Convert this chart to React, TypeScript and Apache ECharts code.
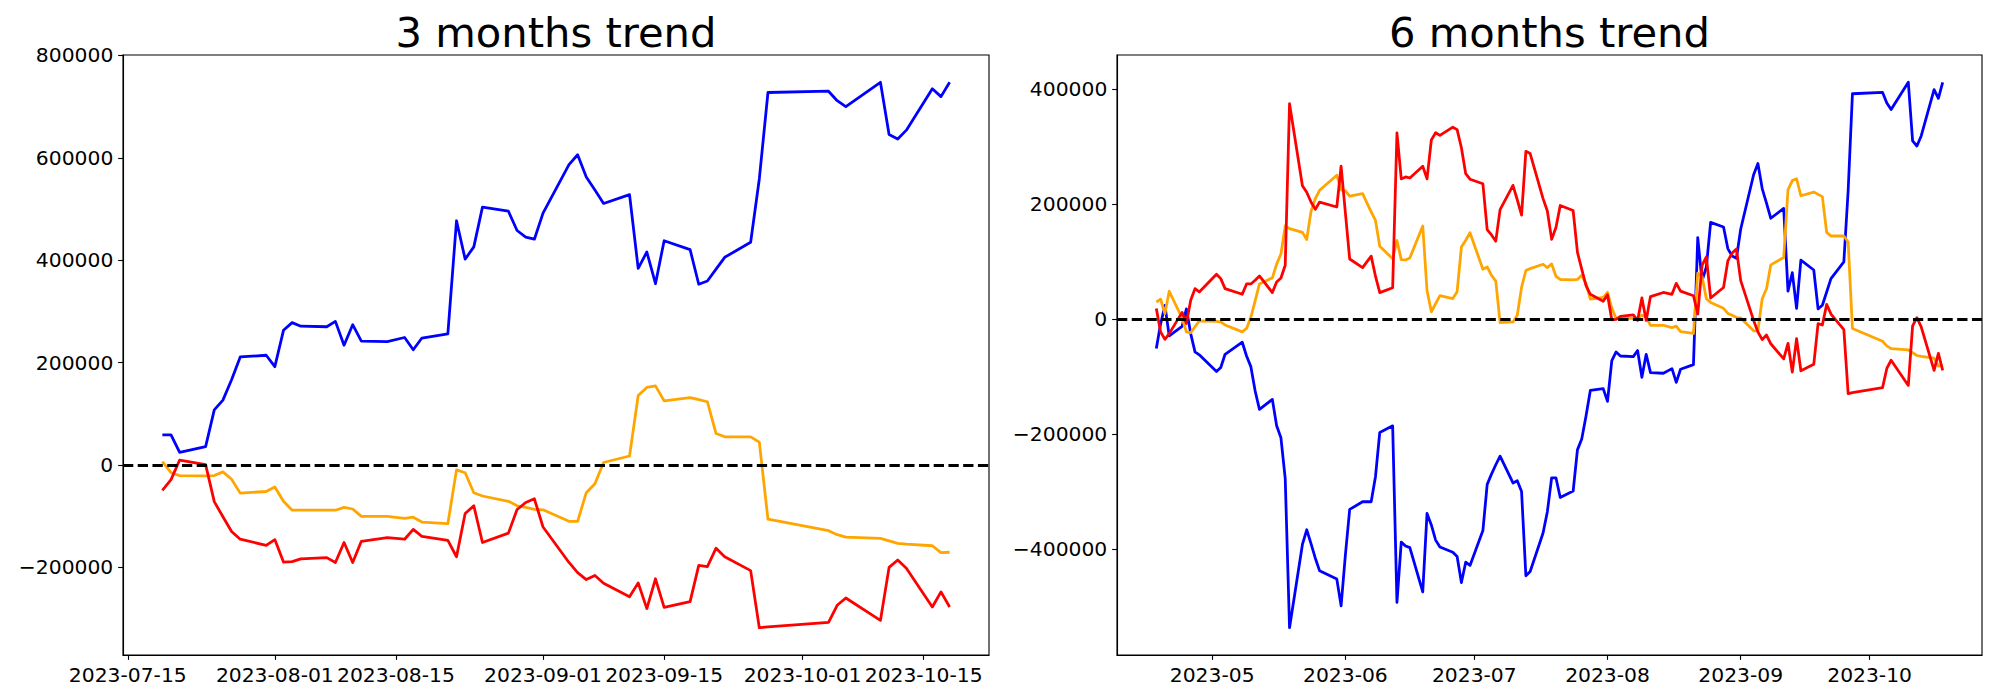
import { useEffect, useRef } from 'react';
import * as echarts from 'echarts';

// ---------- 3 months data ----------
const dates3m = [
  '2023-07-19', '2023-07-20', '2023-07-21', '2023-07-24', '2023-07-25', '2023-07-26', '2023-07-27', '2023-07-28', '2023-07-31',
  '2023-08-01', '2023-08-02', '2023-08-03', '2023-08-04', '2023-08-07', '2023-08-08', '2023-08-09', '2023-08-10', '2023-08-11',
  '2023-08-14', '2023-08-16', '2023-08-17', '2023-08-18', '2023-08-21', '2023-08-22', '2023-08-23', '2023-08-24', '2023-08-25',
  '2023-08-28', '2023-08-29', '2023-08-30', '2023-08-31',
  '2023-09-01', '2023-09-04', '2023-09-05', '2023-09-06', '2023-09-07', '2023-09-08', '2023-09-11', '2023-09-12', '2023-09-13',
  '2023-09-14', '2023-09-15', '2023-09-18', '2023-09-19', '2023-09-20', '2023-09-21', '2023-09-22', '2023-09-25', '2023-09-26',
  '2023-09-27',
  '2023-10-04', '2023-10-05', '2023-10-06', '2023-10-10', '2023-10-11', '2023-10-12', '2023-10-13', '2023-10-16', '2023-10-17',
  '2023-10-18',
];
const blue3m = [
  59000, 59000, 24700, 35900, 107600, 126700, 166500, 211000, 214300,
  192000, 263000, 278000, 271000, 270000, 280500, 234000, 274000, 242000, 241000, 249000, 225000, 248000, 256000, 477000, 402000, 426000, 503600, 495600, 458000, 445000, 441000,
  492000, 586500, 606000, 562500, 537000, 510800, 528000, 384000, 416000, 354000, 438000, 420700, 353000, 359300, 382400, 405600, 435000, 558600, 727500,
  730000, 711500, 700000, 747500, 645400, 636600, 654000, 734700, 719500, 747500,
];
const orange3m = [
  6400, -15100, -20700, -21500, -20700, -13500, -27900, -55000, -51800,
  -43000, -70900, -88400, -88400, -88400, -88400, -82900, -86000, -100400, -100400, -104400, -102000, -111500, -114700, -9600, -15100, -54200, -60600, -70900, -79700, -82900, -86900,
  -87600, -110000, -110000, -54200, -36700, 4800, 17500, 135500, 151400, 154600, 125100, 131500, 127500, 123500, 61400, 55000, 55000, 44600, -106000,
  -128300, -136200, -141000, -143400, -148200, -153000, -154600, -157800, -171300, -170500,
];
const red3m = [
  -49400, -28700, 9600, 800, -71700, -101200, -129900, -145000, -157000,
  -145800, -189600, -188800, -183300, -180900, -190400, -151400, -190400, -149000, -141800, -145000, -125900, -139400, -147400, -179300, -94800, -79700, -151400, -133100, -86900, -73300, -66100,
  -121100, -190400, -210400, -223900, -215900, -231100, -257400, -230300, -280500, -222300, -278100, -266900, -196000, -198400, -162500, -179300, -206400, -317900, -316300,
  -307600, -274100, -259800, -303600, -200000, -185700, -201600, -277300, -247800, -277300,
];

// ---------- 6 months data ----------
const dates6m = [
  '2023-04-18', '2023-04-19', '2023-04-20', '2023-04-21', '2023-04-24', '2023-04-25', '2023-04-26', '2023-04-27', '2023-04-28',
  '2023-05-02', '2023-05-03', '2023-05-04', '2023-05-08', '2023-05-09', '2023-05-10', '2023-05-11', '2023-05-12', '2023-05-15',
  '2023-05-16', '2023-05-17', '2023-05-18', '2023-05-19', '2023-05-22', '2023-05-23', '2023-05-24', '2023-05-25', '2023-05-26',
  '2023-05-30', '2023-05-31',
  '2023-06-01', '2023-06-02', '2023-06-05', '2023-06-07', '2023-06-08', '2023-06-09', '2023-06-12', '2023-06-13', '2023-06-14',
  '2023-06-15', '2023-06-16', '2023-06-19', '2023-06-20', '2023-06-21', '2023-06-22', '2023-06-23', '2023-06-26', '2023-06-27',
  '2023-06-28', '2023-06-29', '2023-06-30',
  '2023-07-03', '2023-07-04', '2023-07-05', '2023-07-06', '2023-07-07', '2023-07-10', '2023-07-11', '2023-07-12', '2023-07-13',
  '2023-07-14', '2023-07-17', '2023-07-18',
  ...dates3m,
];
const blue6m = [
  -51000, -8000, 24000, -29000, -12500, 18000, -25000, -56800, -62000,
  -91000, -84000, -61000, -40000, -64000, -82500, -125000, -157000, -139500, -185500, -206400, -277500, -537000, -392000, -366500, -390500, -416000, -438000, -452300, -499000,
  -410000, -331000, -317700, -317700, -274000, -197100, -185600, -493000, -388000, -394800, -397500, -474500, -338000, -358000, -384500, -396500, -405500, -413000, -458300, -423000, -428500,
  -367800, -287400, -269600, -253300, -238300, -285000, -281000, -300000, -446500, -439200, -372000, -335000,
  -276000, -276000, -310300, -299100, -227400, -208300, -168500, -124000, -120700,
  -143000, -72000, -57000, -64000, -65000, -54500, -101000, -61000, -93000, -94000, -86000, -110000, -87000, -79000, 142000, 67000, 91000, 168600, 160600, 123000, 110000, 106000,
  157000, 251500, 271000, 227500, 202000, 175800, 193000, 49000, 81000, 19000, 103000, 85700, 18000, 24300, 47400, 70600, 100000, 223600, 392500,
  395000, 376500, 365000, 412500, 310400, 301600, 319000, 399700, 384500, 412500,
];
const orange6m = [
  30100, 34800, 9900, 48700, 2000, -22000, -23500, -13000, -2900,
  -3500, -4600, -10000, -22000, -16000, 3500, 32000, 61500, 72000, 96000, 113500, 162300, 157700, 151200, 138700, 187500, 209900, 224500, 250700, 225000,
  223500, 214400, 218500, 187000, 172000, 127000, 105300, 137000, 103800, 103200, 106700, 162300, 50000, 13000, 27200, 41000, 36000, 48000, 125600, 137500, 150500,
  87000, 91000, 76500, 66400, -5800, -4600, 7000, 55500, 84800, 88100, 95700, 89900,
  96300, 74800, 69200, 68400, 69200, 76400, 62000, 34900, 38100,
  46900, 19000, 1500, 1500, 1500, 1500, 7000, 3900, -10500, -10500, -14500, -12100, -21600, -24800, 80300, 74800, 35700, 29300, 19000, 10200, 7000, 3000,
  2300, -20100, -20100, 35700, 53200, 94700, 107400, 225400, 241300, 244500, 215000, 221400, 217400, 213400, 151300, 144900, 144900, 134500, -16100,
  -38400, -46300, -51100, -53500, -58300, -63100, -64700, -67900, -81400, -80600,
];
const red6m = [
  18500, -22000, -35000, -25000, 12000, -7500, 33000, 53300, 47500,
  78300, 70700, 53300, 43500, 61400, 61400, 67800, 75400, 46400, 64900, 71900, 93900, 375100, 232500, 221000, 204000, 191300, 204000, 195400, 266700,
  185000, 104900, 90000, 109800, 75000, 46300, 54900, 324400, 244300, 247800, 245900, 266400, 244300, 312000, 324700, 320000, 334300, 330000, 298500, 253300, 243800,
  235800, 156000, 146700, 135900, 190800, 233100, 208000, 181200, 292300, 288400, 210000, 188400,
  139000, 159700, 198000, 189200, 116700, 87200, 58500, 43400, 31400,
  42600, -1200, -400, 5100, 7500, -2000, 37000, -2000, 39400, 46600, 43400, 62500, 49000, 41000, 9100, 93600, 108700, 37000, 55300, 101500, 115100, 122300,
  67300, -2000, -22000, -35500, -27500, -42700, -69000, -41900, -92100, -33900, -89700, -78500, -7600, -10000, 25900, 9100, -18000, -129500, -127900,
  -119200, -85700, -71400, -115200, -11600, 2700, -13200, -88900, -59400, -88900,
];

// ---------- ticks / labels ----------
const titles = ['3 months trend', '6 months trend'];
const xTicks3m = ['2023-07-15', '2023-08-01', '2023-08-15', '2023-09-01', '2023-09-15', '2023-10-01', '2023-10-15'];
const xTicks6m = ['2023-05-01', '2023-06-01', '2023-07-01', '2023-08-01', '2023-09-01', '2023-10-01'];
const yTicks3m = [-200000, 0, 200000, 400000, 600000, 800000];
const yTicks6m = [-400000, -200000, 0, 200000, 400000];
const seriesColors = ['#0000ff', '#ffa500', '#ff0000'];

const ts = (s: string) => Date.parse(s + 'T00:00:00Z');
const FONT = 'DejaVu Sans';
const LW = 2.78;

const PANELS = [
  { left: 123, width: 866 },
  { left: 1117, width: 865 },
];
const TOP = 55;
const HEIGHT = 600;

function yExtent(arrs: number[][]) {
  const all = arrs.flat();
  const lo = Math.min(...all);
  const hi = Math.max(...all);
  const m = (hi - lo) * 0.05;
  return [lo - m, hi + m];
}

function xExtent(dates: string[]) {
  const a = ts(dates[0]);
  const b = ts(dates[dates.length - 1]);
  const m = (b - a) * 0.05;
  return [a - m, b + m];
}

const fmtY = (v: number) => (v < 0 ? '\u2212' + Math.abs(Math.round(v)) : String(Math.round(v)));

export default function App() {
  const ref = useRef<HTMLDivElement>(null);
  useEffect(() => {
    document.body.style.margin = '0';
    if (!ref.current) return;
    const chart = echarts.init(ref.current, undefined, { renderer: 'svg' });

    const panels = [
      { dates: dates3m, vals: [blue3m, orange3m, red3m], xt: xTicks3m, yt: yTicks3m, fmtX: (v: number) => new Date(v).toISOString().slice(0, 10) },
      { dates: dates6m, vals: [blue6m, orange6m, red6m], xt: xTicks6m, yt: yTicks6m, fmtX: (v: number) => new Date(v).toISOString().slice(0, 7) },
    ];

    const labelStyle = { color: '#000', fontFamily: FONT, fontSize: 20.3 };
    const axisLineStyle = { color: '#000', width: 1.11 };

    const grid = PANELS.map((p) => ({
      left: p.left, top: TOP, width: p.width, height: HEIGHT,
      show: true, borderColor: '#000', borderWidth: 1.11, containLabel: false,
    }));

    const xAxis = panels.map((p, i) => {
      const [mn, mx] = xExtent(p.dates);
      const tickVals = p.xt.map(ts);
      return {
        type: 'value', gridIndex: i, min: mn, max: mx, scale: true,
        axisLine: { show: true, onZero: false, lineStyle: axisLineStyle },
        axisTick: { show: true, length: 4.86, lineStyle: axisLineStyle, customValues: tickVals },
        axisLabel: { ...labelStyle, margin: 9.72, customValues: tickVals, formatter: p.fmtX },
        splitLine: { show: false },
      };
    });

    const yAxis = panels.map((p, i) => {
      const [mn, mx] = yExtent(p.vals);
      return {
        type: 'value', gridIndex: i, min: mn, max: mx,
        axisLine: { show: true, onZero: false, lineStyle: axisLineStyle },
        axisTick: { show: true, length: 4.86, lineStyle: axisLineStyle, customValues: p.yt },
        axisLabel: { ...labelStyle, margin: 9.72, customValues: p.yt, formatter: fmtY },
        splitLine: { show: false },
      };
    });

    const series: any[] = [];
    panels.forEach((p, i) => {
      p.vals.forEach((vals, k) => {
        const s: any = {
          type: 'line', xAxisIndex: i, yAxisIndex: i,
          data: p.dates.map((d, j) => [ts(d), vals[j]]),
          showSymbol: false, symbol: 'none',
          lineStyle: { color: seriesColors[k], width: LW, join: 'round', cap: 'butt' },
          itemStyle: { color: seriesColors[k] },
          z: 2 + k,
          silent: true,
        };
        if (k === p.vals.length - 1) {
          s.markLine = {
            silent: true, symbol: ['none', 'none'], label: { show: false },
            lineStyle: { color: '#000', width: LW, type: [10.3, 4.44] },
            data: [{ yAxis: 0 }],
            animation: false,
          };
        }
        series.push(s);
      });
    });

    const graphic = PANELS.map((p, i) => ({
      type: 'text',
      x: p.left + p.width / 2,
      y: 32.3,
      style: {
        text: titles[i],
        font: `41.67px "${FONT}"`,
        fill: '#000',
        textAlign: 'center',
        textVerticalAlign: 'middle',
      },
    }));

    chart.setOption({
      animation: false,
      backgroundColor: '#fff',
      grid, xAxis, yAxis, series, graphic,
    });
    return () => chart.dispose();
  }, []);
  return <div ref={ref} style={{ position: 'absolute', left: 0, top: 0, width: 2000, height: 700, background: '#fff' }} />;
}
